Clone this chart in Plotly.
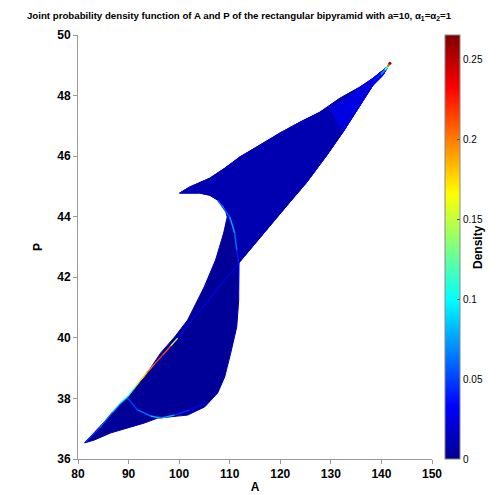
import plotly.graph_objects as go
from plotly.colors import sample_colorscale

# ---------------- data ----------------
# outer boundary of the support (A, P), clockwise from the lower-left tip
bound_A = [81.29, 86.44, 89.80, 93.17, 96.34, 99.11, 101.68, 103.66, 104.95, 107.2,
           108.8, 109.5, 109.0, 107.62, 106.04, 104.06, 100.10, 102.08, 106.04, 109.01,
           111.98, 115.94, 119.90, 123.86, 127.82, 131.78, 135.74, 138.32, 141.09, 141.68,
           140.30, 138.32, 135.74, 132.38, 129.21, 125.25, 121.88, 115.94, 111.78, 111.78,
           111.39, 110.20, 109.01, 107.62, 105.05, 101.68, 98.32, 95.74, 93.17, 89.80,
           86.44, 83.27]
bound_P = [36.53, 37.45, 38.05, 38.71, 39.50, 40.03, 40.59, 41.25, 41.68, 42.57,
           43.46, 43.99, 44.32, 44.55, 44.71, 44.78, 44.78, 44.98, 45.27, 45.60,
           45.97, 46.36, 46.76, 47.12, 47.45, 47.91, 48.28, 48.57, 48.94, 49.07,
           48.67, 48.34, 47.68, 46.79, 46.03, 45.14, 44.48, 43.30, 42.47, 41.25,
           40.36, 39.50, 38.71, 38.18, 37.72, 37.45, 37.39, 37.35, 37.19, 37.02,
           36.86, 36.63]
base_density = 0.003

# upper wedge (slightly higher density)
wedge_A = [100.10, 102.08, 106.04, 109.01, 111.98, 115.94, 119.90, 123.86, 127.82, 131.78,
           135.74, 138.32, 141.09, 141.68, 140.30, 138.32, 135.74, 132.38, 129.21, 125.25,
           121.88, 115.94, 111.78, 111.39, 110.99, 110.0, 108.8, 107.62, 106.04, 104.06]
wedge_P = [44.78, 44.98, 45.27, 45.60, 45.97, 46.36, 46.76, 47.12, 47.45, 47.91,
           48.28, 48.57, 48.94, 49.07, 48.67, 48.34, 47.68, 46.79, 46.03, 45.14,
           44.48, 43.30, 42.47, 42.90, 43.46, 43.99, 44.35, 44.55, 44.71, 44.78]
wedge_density = 0.01

# bright band near the upper tip
tipband_A = [130.0, 134.0, 138.32, 141.09, 141.68, 140.30, 138.32, 135.74, 132.38]
tipband_P = [47.55, 48.0, 48.57, 48.94, 49.07, 48.67, 48.34, 47.68, 46.79]
tipband_density = 0.024

# ridges: (A, P, density) along each bright line
ridge1_A = [81.49, 84.26, 86.83, 88.61, 89.80, 90.99, 92.18, 93.56, 95.15, 96.73, 98.32, 99.70]
ridge1_P = [36.56, 37.02, 37.55, 37.88, 38.05, 38.31, 38.57, 38.84, 39.14, 39.43, 39.73, 39.99]
ridge1_D = [0.04, 0.05, 0.07, 0.09, 0.10, 0.13, 0.16, 0.19, 0.21, 0.22, 0.20, 0.10]

ridge2_A = [89.80, 91.78, 94.36, 96.34, 99.11, 102.08, 105.0]
ridge2_P = [38.01, 37.62, 37.42, 37.35, 37.45, 37.62, 37.85]
ridge2_D = [0.05, 0.05, 0.07, 0.09, 0.06, 0.03, 0.02]

ridge3_A = [107.62, 110.0, 110.99, 111.39, 111.78, 111.7]
ridge3_P = [44.55, 43.99, 43.46, 42.90, 42.47, 41.6]
ridge3_D = [0.03, 0.08, 0.07, 0.05, 0.03, 0.02]

ridge4_A = [111.78, 105.7, 99.70]
ridge4_P = [42.47, 41.23, 39.99]
ridge4_D = [0.035, 0.035, 0.03]

ridge5_A = [138.5, 139.9, 140.7, 141.3, 141.68]
ridge5_P = [48.5, 48.7, 48.85, 48.98, 49.07]
ridge5_D = [0.03, 0.05, 0.09, 0.15, 0.26]

x_ticks = [80, 90, 100, 110, 120, 130, 140, 150]
y_ticks = [36, 38, 40, 42, 44, 46, 48, 50]
cbar_ticks = [0, 0.05, 0.1, 0.15, 0.2, 0.25]
cmax = 0.265

# ---------------- figure ----------------
jet = [[0.0, "rgb(0,0,143)"], [0.125, "rgb(0,0,255)"], [0.375, "rgb(0,255,255)"],
       [0.625, "rgb(255,255,0)"], [0.875, "rgb(255,0,0)"], [1.0, "rgb(128,0,0)"]]


def col(v):
    return sample_colorscale(jet, [max(0.0, min(1.0, v / cmax))])[0]


fig = go.Figure()

for xs, ys, d in [(bound_A, bound_P, base_density),
                  (wedge_A, wedge_P, wedge_density),
                  (tipband_A, tipband_P, tipband_density)]:
    fig.add_trace(go.Scatter(x=xs + [xs[0]], y=ys + [ys[0]], mode="lines", fill="toself",
                             fillcolor=col(d), line=dict(color=col(d + 0.006), width=1),
                             hoverinfo="skip", showlegend=False))

for xs, ys, ds, w in [(ridge4_A, ridge4_P, ridge4_D, 1.0),
                      (ridge2_A, ridge2_P, ridge2_D, 1.5),
                      (ridge3_A, ridge3_P, ridge3_D, 1.5),
                      (ridge1_A, ridge1_P, ridge1_D, 1.3),
                      (ridge5_A, ridge5_P, ridge5_D, 2)]:
    for i in range(len(xs) - 1):
        fig.add_trace(go.Scatter(x=[xs[i], xs[i + 1]], y=[ys[i], ys[i + 1]], mode="lines",
                                 line=dict(color=col((ds[i] + ds[i + 1]) / 2), width=w),
                                 hoverinfo="skip", showlegend=False))

# tip point carrying the colour bar
fig.add_trace(go.Scatter(
    x=[ridge5_A[-1]], y=[ridge5_P[-1]], mode="markers", showlegend=False,
    marker=dict(size=3, color=[ridge5_D[-1]], colorscale=jet, cmin=0, cmax=cmax,
                showscale=True,
                colorbar=dict(x=1.037, xanchor="left", y=0.5, yanchor="middle", len=1.0,
                              lenmode="fraction", thickness=15, xpad=0, ypad=0,
                              outlinecolor="#888", outlinewidth=1, tickvals=cbar_ticks,
                              ticktext=["0", "0.05", "0.1", "0.15", "0.2", "0.25"],
                              ticks="inside", ticklen=3, tickcolor="#444",
                              tickfont=dict(size=10, color="black", family="Liberation Sans, Arial"),
                              title=dict(text="")))))

axis_common = dict(showgrid=False, zeroline=False, showline=True, linecolor="#999",
                   linewidth=1, ticks="outside", ticklen=4, tickcolor="#999",
                   automargin=False,
                   tickfont=dict(size=12, color="black", weight="bold",
                                 family="Liberation Sans, Arial"))

W, H = 491, 487  # page body adds an 8px offset
fig.update_layout(
    width=W, height=H,
    margin=dict(l=70, r=67, t=27, b=36, autoexpand=False),
    paper_bgcolor="white", plot_bgcolor="white",
    title=dict(text="Joint probability density function of A and P of the rectangular bipyramid with a=10, "
                    "α<sub>1</sub>=α<sub>2</sub>=1",
               x=231 / W, xanchor="center", y=1 - 8 / H, yanchor="middle",
               font=dict(size=9.7, color="black", weight="bold",
                         family="Liberation Sans, Arial")),
    xaxis=dict(range=[80, 150], tickvals=x_ticks,
               title=dict(text="A", standoff=2,
                          font=dict(size=12, color="black", weight="bold", family="Liberation Sans, Arial")),
               **axis_common),
    yaxis=dict(range=[36, 50], tickvals=y_ticks,
               title=dict(text="P", standoff=12,
                          font=dict(size=12, color="black", weight="bold", family="Liberation Sans, Arial")),
               **axis_common),
    annotations=[dict(text="<b>Density</b>", xref="paper", yref="paper",
                      x=(478 - 8 - 70) / (W - 70 - 67), y=0.5, xanchor="center", yanchor="middle",
                      textangle=-90, showarrow=False,
                      font=dict(size=12, color="black", family="Liberation Sans, Arial"))],
)

fig.write_html("out.html")
